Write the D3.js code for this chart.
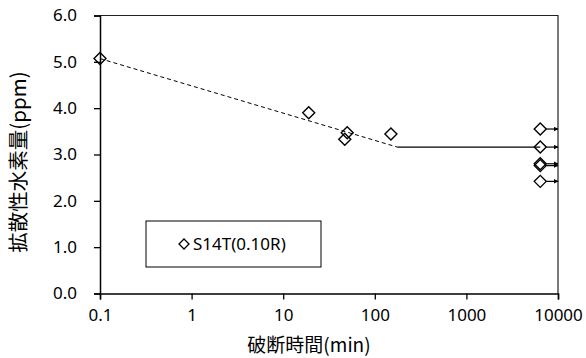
<!DOCTYPE html>
<html>
<head>
<meta charset="utf-8">
<script src="https://cdn.jsdelivr.net/npm/d3@7"></script>
<style>
  html, body { margin: 0; padding: 0; background: #fff; }
  svg { display: block; }
  text { font-family: "Noto Sans", sans-serif; fill: #000; }
  .cjk { font-family: "Noto Sans CJK JP", "Noto Sans", sans-serif; }
</style>
</head>
<body>
<svg id="chart" width="586" height="358"></svg>
<script>
// ---- data ----
const seriesName = "S14T(0.10R)";
const times  = [0.1, 19, 47, 50, 150, 6400, 6400, 6400, 6400, 6400];
const values = [5.07, 3.90, 3.33, 3.47, 3.44, 3.55, 3.16, 2.80, 2.76, 2.42];
const runOut = [false, false, false, false, false, true, true, true, true, true]; // unbroken (arrow)
const trendTimes  = [0.1, 176];
const trendValues = [5.07, 3.16];
const plateauTimes  = [176, 6400];
const plateauValues = [3.16, 3.16];
const xTicks = [0.1, 1, 10, 100, 1000, 10000];
const xTickLabels = ["0.1", "1", "10", "100", "1000", "10000"];
const yTicks = [0, 1, 2, 3, 4, 5, 6];
const xTitle = "破断時間(min)";
const yTitle = "拡散性水素量(ppm)";

// ---- layout ----
const svg = d3.select("#chart");
const pL = 100, pR = 558, pT = 15.5, pB = 293.5;
const x = d3.scaleLog().domain([0.1, 10000]).range([pL, pR]);
const y = d3.scaleLinear().domain([0, 6]).range([pB, pT]);

// plot border (top & right)
svg.append("path")
  .attr("d", `M${pL},${pT}H${pR}V${pB}`)
  .attr("fill", "none").attr("stroke", "#222").attr("stroke-width", 1.2);

// axes
const xAxis = d3.axisBottom(x).tickValues(xTicks)
  .tickFormat((d, i) => xTickLabels[i]).tickSize(6).tickPadding(9);
const gx = svg.append("g").attr("transform", `translate(0,${pB})`).call(xAxis);
const yAxis = d3.axisLeft(y).tickValues(yTicks)
  .tickFormat(d3.format(".1f")).tickSize(6).tickPadding(17);
const gy = svg.append("g").attr("transform", `translate(${pL},0)`).call(yAxis);
[gx, gy].forEach(g => {
  g.selectAll("path.domain").attr("stroke", "#000").attr("stroke-width", 1.5);
  g.selectAll(".tick line").attr("stroke", "#000").attr("stroke-width", 1.3);
  g.selectAll(".tick text").style("font-family", "'Noto Sans', sans-serif")
    .style("font-size", "17px").attr("fill", "#000");
});

// titles
svg.append("text").attr("class", "cjk")
  .attr("x", 309).attr("y", 352).attr("text-anchor", "middle")
  .style("font-size", "19px").text(xTitle);
svg.append("text").attr("class", "cjk")
  .attr("transform", "translate(26,162) rotate(-90)").attr("text-anchor", "middle")
  .style("font-size", "20.5px").text(yTitle);

// trend lines
const line = d3.line().x(d => x(d[0])).y(d => y(d[1]));
svg.append("path").datum(d3.zip(trendTimes, trendValues))
  .attr("d", line).attr("fill", "none").attr("stroke", "#000")
  .attr("stroke-width", 1).attr("stroke-dasharray", "4,3");
svg.append("path").datum(d3.zip(plateauTimes, plateauValues))
  .attr("d", line).attr("fill", "none").attr("stroke", "#000").attr("stroke-width", 1.1);

// arrows for run-outs
svg.append("defs").append("marker")
  .attr("id", "arrow").attr("viewBox", "0 0 10 10").attr("refX", 9).attr("refY", 5)
  .attr("markerWidth", 5).attr("markerHeight", 5).attr("orient", "auto")
  .attr("markerUnits", "userSpaceOnUse")
  .append("path").attr("d", "M0,0L10,5L0,10Z").attr("fill", "#000");
const pts = d3.zip(times, values, runOut);
svg.append("g").selectAll("line").data(pts.filter(d => d[2])).join("line")
  .attr("x1", d => x(d[0]) + 6).attr("x2", pR)
  .attr("y1", d => y(d[1])).attr("y2", d => y(d[1]))
  .attr("stroke", "#000").attr("stroke-width", 1.2).attr("marker-end", "url(#arrow)");

// markers
const diamond = (cx, cy, r) => `M${cx},${cy - r}L${cx + r},${cy}L${cx},${cy + r}L${cx - r},${cy}Z`;
svg.append("g").selectAll("path").data(pts).join("path")
  .attr("d", d => diamond(x(d[0]), y(d[1]), 6))
  .attr("fill", "none").attr("stroke", "#000").attr("stroke-width", 1.4);

// legend
const lg = svg.append("g");
lg.append("rect").attr("x", 146).attr("y", 221).attr("width", 175).attr("height", 46)
  .attr("fill", "#fff").attr("stroke", "#000").attr("stroke-width", 1);
lg.append("path").attr("d", diamond(184, 244, 5))
  .attr("fill", "none").attr("stroke", "#000").attr("stroke-width", 1.3);
lg.append("text").attr("x", 193).attr("y", 250).style("font-size", "17px").text(seriesName);
</script>
</body>
</html>
